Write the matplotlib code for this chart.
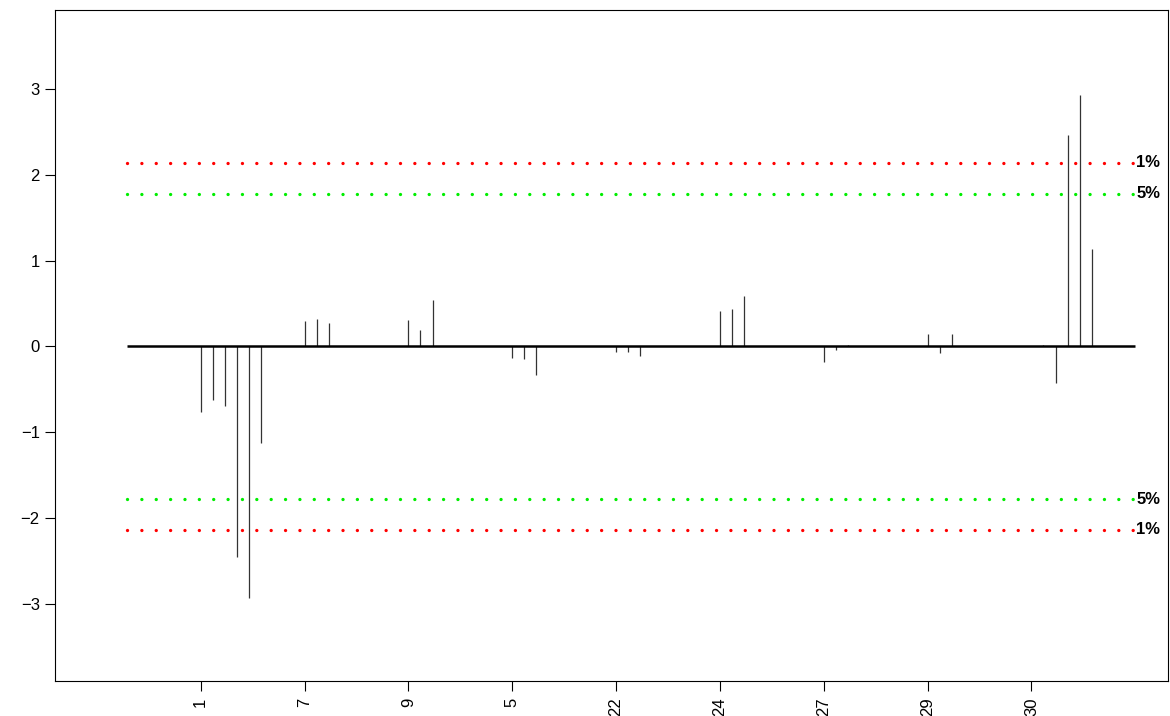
import matplotlib
matplotlib.use("Agg")
import matplotlib.pyplot as plt
import numpy as np

plt.rcParams['font.family'] = ['Liberation Sans', 'DejaVu Sans']

# tick labels (bottom axis, rotated, cut off by the figure edge as in the original)
tick_labels = ["1", "7", "9", "5", "22", "24", "27", "29", "30"]

# spike values per group
group_values = [
    [-0.77, -0.63, -0.70, -2.46, -2.93, -1.13],
    [0.30, 0.32, 0.27],
    [0.31, 0.19, 0.54],
    [-0.13, -0.15, -0.33],
    [-0.07, -0.06, -0.11],
    [0.41, 0.43, 0.59],
    [-0.18, -0.04, 0.02],
    [0.14, -0.08, 0.14],
    [0.00, 0.02, -0.43, 2.46, 2.93, 1.13],
]

# critical values
crit_5 = 1.78
crit_1 = 2.14

step = 0.1165  # spacing of spikes within a group

fig = plt.figure(figsize=(11.70, 7.16), dpi=100)
ax = fig.add_axes([55 / 1170, 1 - 681 / 716, (1168 - 55) / 1170, (681 - 10) / 716])

xs, ys = [], []
for g, vals in enumerate(group_values):
    for k, v in enumerate(vals):
        xs.append(g + 1 + k * step)
        ys.append(v)
ax.vlines(xs, 0, ys, colors="#333333", linewidth=0.9)

x0, x1 = 0.29, 10.0
ax.plot([x0, x1], [0, 0], color="black", linewidth=1.8, solid_capstyle="butt")

dot = (0, (0.01, 4.3))
for yv, col in [(crit_1, "#ff0000"), (crit_5, "#00ee00"), (-crit_5, "#00ee00"), (-crit_1, "#ff0000")]:
    ax.plot([x0, x1], [yv, yv], color=col, linewidth=2.4, linestyle=dot,
            dash_capstyle="round")

for yv, lab in [(crit_1, "1%"), (crit_5, "5%"), (-crit_5, "5%"), (-crit_1, "1%")]:
    ax.text(x1 + 0.01, yv, lab, fontsize=12, fontweight="bold", ha="left", va="center")

ax.set_xlim(-0.403, 10.316)
ax.set_ylim(-3.9, 3.92)

ax.set_yticks([-3, -2, -1, 0, 1, 2, 3])
ax.set_yticklabels(["\u22123", "\u22122", "\u22121", "0", "1", "2", "3"])
ax.set_xticks(np.arange(1, len(tick_labels) + 1))
ax.set_xticklabels(tick_labels, rotation=90, va="top", ha="center")

ax.tick_params(axis="both", direction="out", length=7, width=0.8, labelsize=12, colors="black")
ax.tick_params(axis="y", pad=4)
ax.tick_params(axis="x", pad=5)
for s in ax.spines.values():
    s.set_linewidth(0.8)
    s.set_color("black")

fig.savefig("out.png", dpi=100)
